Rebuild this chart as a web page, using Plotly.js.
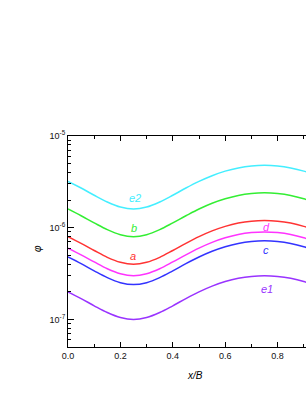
<!DOCTYPE html>
<html>
<head>
<meta charset="utf-8">
<script src="https://cdn.plot.ly/plotly-3.0.1.min.js"></script>
<style>
html,body{margin:0;padding:0;overflow:hidden;background:#fff;width:306px;height:396px;}
#chart{width:360px;height:396px;}
</style>
</head>
<body>
<div id="chart"></div>
<script>
const xB = [0,0.05,0.1,0.15,0.2,0.25,0.3,0.35,0.4,0.45,0.5,0.55,0.6,0.65,0.7,0.75,0.8,0.85,0.9,0.95,1.0];
const phiE2 = [3.20e-6,2.71e-6,2.26e-6,1.91e-6,1.68e-6,1.60e-6,1.68e-6,1.91e-6,2.26e-6,2.71e-6,3.20e-6,3.69e-6,4.14e-6,4.49e-6,4.72e-6,4.80e-6,4.72e-6,4.49e-6,4.14e-6,3.69e-6,3.20e-6];
const phiB = [1.60e-6,1.35e-6,1.13e-6,9.53e-7,8.39e-7,8.00e-7,8.39e-7,9.53e-7,1.13e-6,1.35e-6,1.60e-6,1.85e-6,2.07e-6,2.25e-6,2.36e-6,2.40e-6,2.36e-6,2.25e-6,2.07e-6,1.85e-6,1.60e-6];
const phiA = [8.00e-7,6.76e-7,5.65e-7,4.76e-7,4.20e-7,4.00e-7,4.20e-7,4.76e-7,5.65e-7,6.76e-7,8.00e-7,9.24e-7,1.035e-6,1.124e-6,1.180e-6,1.200e-6,1.180e-6,1.124e-6,1.035e-6,9.24e-7,8.00e-7];
const phiD = [6.00e-7,5.07e-7,4.24e-7,3.57e-7,3.15e-7,3.00e-7,3.15e-7,3.57e-7,4.24e-7,5.07e-7,6.00e-7,6.93e-7,7.76e-7,8.43e-7,8.85e-7,9.00e-7,8.85e-7,8.43e-7,7.76e-7,6.93e-7,6.00e-7];
const phiC = [4.80e-7,4.06e-7,3.39e-7,2.86e-7,2.52e-7,2.40e-7,2.52e-7,2.86e-7,3.39e-7,4.06e-7,4.80e-7,5.54e-7,6.21e-7,6.74e-7,7.08e-7,7.20e-7,7.08e-7,6.74e-7,6.21e-7,5.54e-7,4.80e-7];
const phiE1 = [2.00e-7,1.69e-7,1.41e-7,1.19e-7,1.05e-7,1.00e-7,1.05e-7,1.19e-7,1.41e-7,1.69e-7,2.00e-7,2.31e-7,2.59e-7,2.81e-7,2.95e-7,3.00e-7,2.95e-7,2.81e-7,2.59e-7,2.31e-7,2.00e-7];

const seriesNames = ['e2','b','a','d','c','e1'];
const seriesData = [phiE2, phiB, phiA, phiD, phiC, phiE1];
const seriesColors = ['#44eeff','#33ee33','#ff3333','#ff33ff','#3333ff','#9933ff'];
const labelX = [0.255,0.251,0.249,0.759,0.756,0.759];
const labelY = [2.09e-6,9.97e-7,4.93e-7,1.02e-6,5.69e-7,2.17e-7];

const xTickVals = [0,0.2,0.4,0.6,0.8];
const xTickText = ['0.0','0.2','0.4','0.6','0.8'];
const yTickVals = [1e-7,1e-6,1e-5];
const yTickText = ['10<sup>-7</sup>','10<sup>-6</sup>','10<sup>-5</sup>'];
const yMinorVals = [6e-8,7e-8,8e-8,9e-8,2e-7,3e-7,4e-7,5e-7,6e-7,7e-7,8e-7,9e-7,2e-6,3e-6,4e-6,5e-6,6e-6,7e-6,8e-6,9e-6];
const xMinorVals = [0.1,0.3,0.5,0.7,0.9];

const traces = seriesData.map((d,i)=>({
  x: xB, y: d, type:'scatter', mode:'lines', name: seriesNames[i],
  line:{color: seriesColors[i], width:1.5, shape:'spline'}, hoverinfo:'skip'
}));
traces.push({x:[0.5], y:[1e-6], type:'scatter', mode:'lines', xaxis:'x2', yaxis:'y2', hoverinfo:'skip', line:{color:'rgba(0,0,0,0)'}});

const annotations = seriesNames.map((n,i)=>({
  x: labelX[i], y: Math.log10(labelY[i]), xref:'x', yref:'y', text:'<i>'+n+'</i>',
  showarrow:false, font:{family:'Liberation Sans, Arial, sans-serif', size:11, color: seriesColors[i]}
}));
annotations.push({x:0.483, y:(347-375)/211, xref:'paper', yref:'paper', yanchor:'middle', xanchor:'center',
  text:'<i>x/B</i>', showarrow:false,
  font:{family:'Liberation Sans, Arial, sans-serif', size:10, color:'#000'}});
annotations.push({x:(37-68)/262, y:(347-249)/211, xref:'paper', yref:'paper', yanchor:'middle', xanchor:'center',
  text:'<i>φ</i>', showarrow:false, textangle:-90,
  font:{family:'Liberation Sans, Arial, sans-serif', size:10, color:'#000'}});

const layout = {
  width:360, height:396,
  margin:{l:68, r:30, t:136, b:49},
  paper_bgcolor:'#fff', plot_bgcolor:'#fff',
  showlegend:false,
  font:{family:'Liberation Sans, Arial, sans-serif', size:9, color:'#111'},
  xaxis:{
    range:[0,1], tickvals:xTickVals, ticktext:xTickText,
    ticks:'inside', ticklen:5, tickcolor:'#000', tickwidth:1,
    showline:true, linecolor:'#000', linewidth:1, mirror:'allticks',
    showgrid:false, zeroline:false
  },
  xaxis2:{
    range:[0,1], overlaying:'x', side:'bottom', tickvals:xMinorVals,
    showticklabels:false, ticks:'inside', ticklen:3, tickcolor:'#000', tickwidth:1,
    showline:false, mirror:'allticks', showgrid:false, zeroline:false
  },
  yaxis:{
    type:'log', range:[-7.3,-5], tickvals:yTickVals, ticktext:yTickText,
    ticks:'inside', ticklen:6, tickcolor:'#000', tickwidth:1,
    showline:true, linecolor:'#000', linewidth:1, mirror:'ticks',
    showgrid:false, zeroline:false
  },
  yaxis2:{
    type:'log', range:[-7.3,-5], overlaying:'y', side:'left', tickvals:yMinorVals,
    showticklabels:false, ticks:'inside', ticklen:3, tickcolor:'#000', tickwidth:1,
    showline:false, showgrid:false, zeroline:false
  },
  annotations: annotations
};

Plotly.newPlot('chart', traces, layout, {displayModeBar:false, staticPlot:true});
</script>
</body>
</html>
